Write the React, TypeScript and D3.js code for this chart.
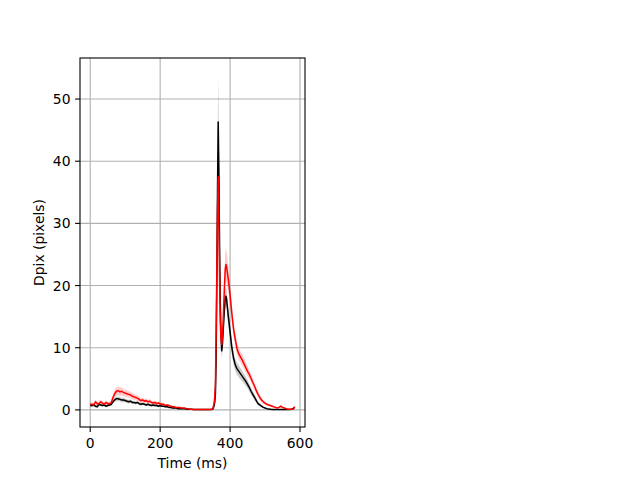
import React from "react";
import * as d3 from "d3";

const times = [
  0, 5, 10, 15, 20, 25, 30, 35, 40, 45, 50, 55, 60, 65, 70, 75, 80, 85, 90, 95,
  100, 105, 110, 115, 120, 125, 130, 135, 140, 145, 150, 155, 160, 165, 170, 175, 180, 185, 190, 195,
  200, 205, 210, 215, 220, 225, 230, 235, 240, 245, 250, 255, 260, 265, 270, 275, 280, 285, 290, 295,
  300, 305, 310, 315, 320, 325, 330, 335, 340, 345, 350,
  352, 354, 356, 358, 360, 362, 364, 366, 368, 370, 372, 374, 376, 378, 380, 382, 384, 386, 388, 390,
  395, 400, 405, 410, 415, 420, 425, 430, 435, 440, 445, 450, 455, 460, 465, 470, 475, 480, 485, 490,
  495, 500, 505, 510, 515, 520, 525, 530, 535, 540, 545, 550, 555, 560, 565, 570, 575, 580, 585,
];

const blackMean = [
  0.7, 0.7, 0.8, 0.6, 0.5, 0.9, 0.8, 0.7, 0.8, 0.6, 0.7, 0.8, 0.9, 1.3, 1.6, 1.8, 1.8, 1.7, 1.6, 1.6,
  1.5, 1.4, 1.3, 1.4, 1.2, 1.2, 1.1, 1.2, 1.0, 0.9, 1.0, 0.9, 0.8, 0.9, 0.8, 0.7, 0.8, 0.7, 0.7, 0.6,
  0.7, 0.6, 0.6, 0.5, 0.5, 0.4, 0.4, 0.3, 0.3, 0.3, 0.2, 0.2, 0.2, 0.2, 0.2, 0.1, 0.1, 0.1, 0.1, 0.05,
  0.05, 0.05, 0.05, 0.05, 0.05, 0.05, 0.05, 0.05, 0.05, 0.05, 0.1,
  0.3, 0.6, 1.2, 2.5, 8, 20, 35, 46.3, 38, 26, 17, 12, 9.5, 10.5, 12.5, 14.5, 16.3, 17.8, 18.3, 17.8,
  15, 12.5, 10, 8.3, 7.2, 6.6, 6.2, 5.8, 5.4, 5.0, 4.6, 4.1, 3.6, 3.0, 2.5, 2.0, 1.5, 1.0, 0.8, 0.6,
  0.4, 0.3, 0.2, 0.15, 0.1, 0.05, 0.05, 0.05, 0.05, 0.05, 0.05, 0.05, 0.05, 0.05, 0.05, 0.05, 0.1, 0.2, 0.4,
];

const blackSd = [
  0.2, 0.2, 0.2, 0.2, 0.2, 0.2, 0.2, 0.2, 0.2, 0.2, 0.2, 0.2, 0.25, 0.3, 0.35, 0.35, 0.35, 0.35, 0.35, 0.35,
  0.3, 0.3, 0.3, 0.3, 0.25, 0.25, 0.25, 0.25, 0.25, 0.25, 0.2, 0.2, 0.2, 0.2, 0.2, 0.2, 0.2, 0.2, 0.15, 0.15,
  0.15, 0.15, 0.15, 0.1, 0.1, 0.1, 0.1, 0.1, 0.1, 0.1, 0.05, 0.05, 0.05, 0.05, 0.05, 0.05, 0.05, 0.05, 0.05, 0.05,
  0.05, 0.05, 0.05, 0.05, 0.05, 0.05, 0.05, 0.05, 0.05, 0.05, 0.1,
  0.2, 0.3, 0.5, 1.0, 2.0, 4.0, 6.0, 7.7, 6.0, 4.0, 2.5, 1.6, 1.3, 1.3, 1.4, 1.5, 1.6, 1.6, 1.6, 1.5,
  1.3, 1.2, 1.1, 1.0, 1.0, 1.0, 1.0, 0.9, 0.9, 0.8, 0.8, 0.7, 0.6, 0.6, 0.5, 0.5, 0.4, 0.3, 0.25, 0.2,
  0.15, 0.1, 0.1, 0.05, 0.05, 0.05, 0.05, 0.05, 0.05, 0.05, 0.05, 0.05, 0.05, 0.05, 0.05, 0.05, 0.05, 0.05, 0.1,
];

const redMean = [
  0.9, 0.9, 0.8, 1.3, 1.0, 1.0, 1.3, 1.1, 0.9, 1.2, 1.0, 1.0, 1.1, 2.0, 2.6, 3.0, 3.1, 2.9, 3.0, 2.8,
  2.7, 2.6, 2.5, 2.4, 2.2, 2.1, 2.0, 1.9, 1.7, 1.5, 1.6, 1.4, 1.5, 1.3, 1.4, 1.2, 1.1, 1.2, 1.0, 1.1,
  1.0, 0.9, 0.9, 0.7, 0.8, 0.7, 0.6, 0.5, 0.5, 0.4, 0.4, 0.4, 0.3, 0.3, 0.3, 0.2, 0.2, 0.1, 0.1, 0.05,
  0.05, 0.05, 0.05, 0.05, 0.05, 0.05, 0.05, 0.05, 0.05, 0.05, 0.2,
  0.5, 1.0, 2.0, 4.0, 12, 22, 32, 37.5, 30, 21, 14, 11.5, 10.5, 11.5, 14, 17, 20, 22.5, 23.4, 23.0,
  21, 18.5, 15.5, 13, 11.3, 9.8, 9.0, 8.5, 8.0, 7.4, 6.8, 6.2, 5.7, 5.1, 4.4, 3.8, 3.1, 2.5, 2.0, 1.6,
  1.3, 1.1, 0.9, 0.8, 0.7, 0.6, 0.5, 0.4, 0.3, 0.4, 0.6, 0.4, 0.3, 0.2, 0.1, 0.1, 0.1, 0.1, 0.5,
];

const redSd = [
  0.3, 0.3, 0.3, 0.35, 0.35, 0.35, 0.35, 0.35, 0.35, 0.35, 0.35, 0.35, 0.4, 0.55, 0.65, 0.7, 0.7, 0.65, 0.65, 0.6,
  0.6, 0.55, 0.55, 0.5, 0.5, 0.5, 0.45, 0.45, 0.4, 0.4, 0.4, 0.35, 0.35, 0.35, 0.35, 0.3, 0.3, 0.3, 0.3, 0.3,
  0.25, 0.25, 0.25, 0.2, 0.2, 0.2, 0.15, 0.15, 0.15, 0.1, 0.1, 0.1, 0.1, 0.1, 0.05, 0.05, 0.05, 0.05, 0.05, 0.05,
  0.05, 0.05, 0.05, 0.05, 0.05, 0.05, 0.05, 0.05, 0.05, 0.05, 0.1,
  0.2, 0.4, 0.7, 1.2, 2.5, 4.0, 5.0, 6.0, 5.0, 3.5, 2.0, 1.5, 1.3, 1.4, 1.7, 2.1, 2.4, 2.6, 2.6, 2.5,
  2.1, 1.7, 1.4, 1.2, 1.1, 1.0, 1.0, 0.9, 0.9, 0.9, 0.8, 0.8, 0.7, 0.7, 0.6, 0.6, 0.5, 0.45, 0.4, 0.35,
  0.3, 0.25, 0.2, 0.15, 0.15, 0.1, 0.1, 0.1, 0.1, 0.1, 0.2, 0.15, 0.1, 0.05, 0.05, 0.05, 0.05, 0.05, 0.1,
];

const xTicks = [0, 200, 400, 600];
const yTicks = [0, 10, 20, 30, 40, 50];
const xLabel = "Time (ms)";
const yLabel = "Dpix (pixels)";

const W = 640;
const H = 480;
const M = { left: 80, right: 305, top: 58, bottom: 427 };
const FONT = "DejaVu Sans, sans-serif";

export default function App() {
  const x = d3.scaleLinear().domain([-29.25, 614.25]).range([M.left, M.right]);
  const y = d3.scaleLinear().domain([-2.75, 56.6]).range([M.bottom, M.top]);

  const idx = times.map((_, i) => i);
  const area = (mean: number[], sd: number[]) =>
    d3
      .area<number>()
      .x((i) => x(times[i]))
      .y0((i) => y(mean[i] - sd[i]))
      .y1((i) => y(mean[i] + sd[i]))(idx) || "";
  const line = (mean: number[]) =>
    d3
      .line<number>()
      .x((i) => x(times[i]))
      .y((i) => y(mean[i]))(idx) || "";

  return (
    <svg
      width={W}
      height={H}
      style={{ position: "absolute", left: 0, top: 0, background: "#fff" }}
      fontFamily={FONT}
    >
      <rect x={0} y={0} width={W} height={H} fill="#fff" />
      <defs>
        <clipPath id="plot">
          <rect x={M.left} y={M.top} width={M.right - M.left} height={M.bottom - M.top} />
        </clipPath>
      </defs>
      <g stroke="#b0b0b0" strokeWidth={1.1}>
        {xTicks.map((t) => (
          <line key={"gx" + t} x1={x(t)} x2={x(t)} y1={M.top} y2={M.bottom} />
        ))}
        {yTicks.map((t) => (
          <line key={"gy" + t} x1={M.left} x2={M.right} y1={y(t)} y2={y(t)} />
        ))}
      </g>
      <g clipPath="url(#plot)">
        <path d={area(blackMean, blackSd)} fill="#000" fillOpacity={0.2} />
        <path d={area(redMean, redSd)} fill="#ff0000" fillOpacity={0.2} />
        <path d={line(blackMean)} fill="none" stroke="#000" strokeWidth={1.5} strokeLinejoin="round" />
        <path d={line(redMean)} fill="none" stroke="#ff0000" strokeWidth={1.5} strokeLinejoin="round" />
      </g>
      <rect
        x={M.left}
        y={M.top}
        width={M.right - M.left}
        height={M.bottom - M.top}
        fill="none"
        stroke="#000"
        strokeWidth={1.1}
      />
      {xTicks.map((t) => (
        <g key={"xt" + t}>
          <line x1={x(t)} x2={x(t)} y1={M.bottom} y2={M.bottom + 4.9} stroke="#000" strokeWidth={1.1} />
          <text x={x(t)} y={M.bottom + 21} textAnchor="middle" fontSize={13.9} fill="#000">
            {t}
          </text>
        </g>
      ))}
      {yTicks.map((t) => (
        <g key={"yt" + t}>
          <line x1={M.left - 4.9} x2={M.left} y1={y(t)} y2={y(t)} stroke="#000" strokeWidth={1.1} />
          <text x={M.left - 9.5} y={y(t) + 5} textAnchor="end" fontSize={13.9} fill="#000">
            {t}
          </text>
        </g>
      ))}
      <text x={(M.left + M.right) / 2} y={468} textAnchor="middle" fontSize={13.9} fill="#000">
        {xLabel}
      </text>
      <text
        transform={`translate(44, ${(M.top + M.bottom) / 2}) rotate(-90)`}
        textAnchor="middle"
        fontSize={13.9}
        fill="#000"
      >
        {yLabel}
      </text>
    </svg>
  );
}
